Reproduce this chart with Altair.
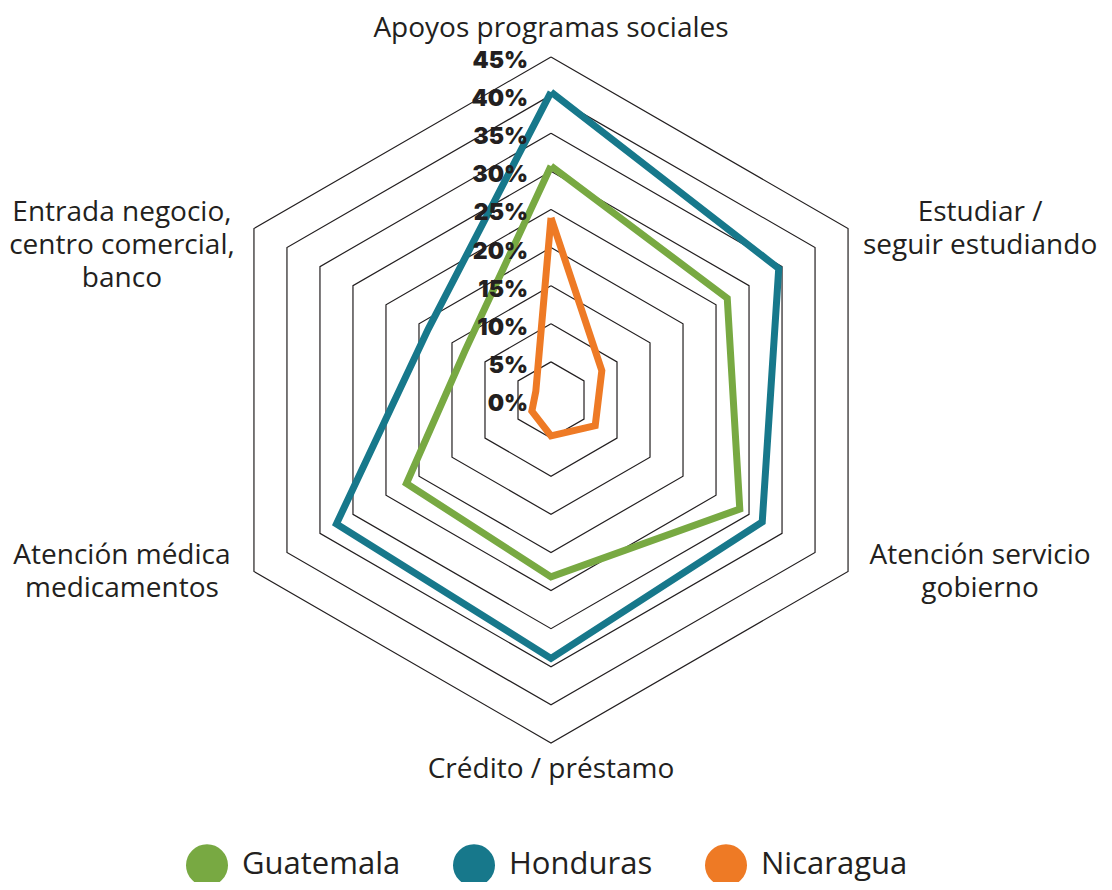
import altair as alt
import pandas as pd

# ---- data ----
categories = [
    "Apoyos programas sociales",
    "Estudiar /\nseguir estudiando",
    "Atención servicio\ngobierno",
    "Crédito / préstamo",
    "Atención médica\nmedicamentos",
    "Entrada negocio,\ncentro comercial,\nbanco",
]
series = ["Guatemala", "Honduras", "Nicaragua"]
guatemala = [30.7, 26.7, 28.6, 23.2, 21.9, 13.0]
honduras = [40.4, 34.5, 32.0, 33.9, 32.5, 18.6]
nicaragua = [23.9, 7.7, 6.7, 4.7, 2.9, 2.3]
ring_levels = [5, 10, 15, 20, 25, 30, 35, 40, 45]
tick_values = [0, 5, 10, 15, 20, 25, 30, 35, 40, 45]
tick_labels = ["0%", "5%", "10%", "15%", "20%", "25%", "30%", "35%", "40%", "45%"]
colors = ["#78a942", "#17788b", "#ee7a25"]

# ---- tables built from the arrays ----
values_by_series = dict(zip(series, [guatemala, honduras, nicaragua]))
line_rows = []
for s in series:
    vals = values_by_series[s]
    for k in range(len(categories) + 1):
        idx = k % len(categories)
        line_rows.append({"series": s, "idx": idx, "ord": k, "value": vals[idx]})
lines_df = pd.DataFrame(line_rows)

grid_rows = []
for lv in ring_levels:
    for k in range(len(categories) + 1):
        grid_rows.append({"level": lv, "idx": k % len(categories), "ord": k, "value": lv})
grid_df = pd.DataFrame(grid_rows)

label_df = pd.DataFrame({"cat": categories, "idx": list(range(len(categories)))})
tick_df = pd.DataFrame({"value": tick_values, "label": tick_labels})

# ---- geometry ----
W, H = 1096, 874
ppu = 343 / 45.0
cx, cy = 543, 392
xdom = [-cx / ppu, (W - cx) / ppu]
ydom = [-(H - cy) / ppu, cy / ppu]

X = lambda f: alt.X(f, type="quantitative", scale=alt.Scale(domain=xdom, nice=False, zero=False), axis=None)
Y = lambda f: alt.Y(f, type="quantitative", scale=alt.Scale(domain=ydom, nice=False, zero=False), axis=None)

FONT = "Open Sans"
DARK = "#231f20"

grid = (
    alt.Chart(grid_df)
    .transform_calculate(ang="PI/2 - datum.idx * PI/3")
    .transform_calculate(px="datum.value * cos(datum.ang)", py="datum.value * sin(datum.ang)")
    .mark_line(stroke=DARK, strokeWidth=1.2, strokeJoin="miter")
    .encode(x=X("px"), y=Y("py"), detail="level:N", order="ord:Q")
)

lines = (
    alt.Chart(lines_df)
    .transform_calculate(ang="PI/2 - datum.idx * PI/3")
    .transform_calculate(px="datum.value * cos(datum.ang)", py="datum.value * sin(datum.ang)")
    .mark_line(strokeWidth=7, strokeJoin="miter", strokeMiterLimit=30)
    .encode(
        x=X("px"),
        y=Y("py"),
        color=alt.Color(
            "series:N",
            scale=alt.Scale(domain=series, range=colors),
            legend=alt.Legend(
                title=None,
                orient="none",
                legendX=178,
                legendY=836,
                direction="horizontal",
                symbolType="circle",
                symbolSize=441,
                symbolStrokeWidth=21,
                labelFont=FONT,
                labelFontSize=31,
                labelColor=DARK,
                labelOffset=14,
                columnPadding=20,
            ),
        ),
        order="ord:Q",
    )
)

ticks = (
    alt.Chart(tick_df)
    .transform_calculate(px="0", py="datum.value")
    .mark_text(align="right", baseline="middle", dx=-23, dy=4, font="Inter", fontWeight=900, fontSize=23, color=DARK)
    .encode(x=X("px"), y=Y("py"), text="label:N")
)

cat_labels = (
    alt.Chart(label_df)
    .transform_calculate(ang="PI/2 - datum.idx * PI/3")
    .transform_calculate(
        px="abs(cos(datum.ang)) < 0.01 ? 0 : cos(datum.ang) * 65",
        py="abs(cos(datum.ang)) < 0.01 ? (sin(datum.ang) > 0 ? 48.7 : -48.5) : sin(datum.ang) * 45 + 2",
    )
    .mark_text(align="center", baseline="middle", lineBreak="\n", lineHeight=33, font=FONT, fontSize=28, color=DARK)
    .encode(x=X("px"), y=Y("py"), text="cat:N")
)

chart = (
    alt.layer(grid, lines, ticks, cat_labels)
    .properties(width=W, height=H, padding=0, autosize=alt.AutoSizeParams(type="none"), background="white")
    .configure_view(stroke=None)
)

chart.save("out.html", embed_options={"renderer": "svg", "actions": False})
